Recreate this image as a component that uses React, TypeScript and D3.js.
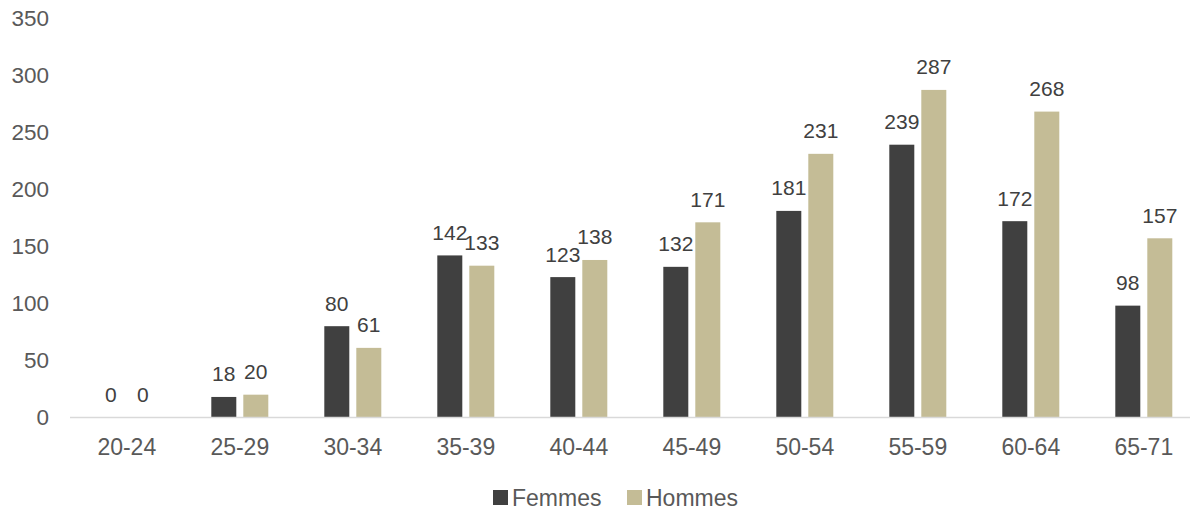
import React from "react";
import * as d3 from "d3";

const ageGroups = ["20-24", "25-29", "30-34", "35-39", "40-44", "45-49", "50-54", "55-59", "60-64", "65-71"];
const femmes = [0, 18, 80, 142, 123, 132, 181, 239, 172, 98];
const hommes = [0, 20, 61, 133, 138, 171, 231, 287, 268, 157];
const seriesNames = ["Femmes", "Hommes"];
const seriesColors = ["#404040", "#C4BC96"];
const yTicks = [0, 50, 100, 150, 200, 250, 300, 350];

const W = 1190;
const H = 510;
const FONT = "'Liberation Sans', Arial, Helvetica, sans-serif";

export default function App() {
  const x0 = d3.scaleBand<string>().domain(ageGroups).range([70.3, 1200.3]).padding(0);
  const groupW = 57;
  const x1 = d3
    .scaleBand<string>()
    .domain(seriesNames)
    .range([0, groupW])
    .paddingInner(7 / 32)
    .paddingOuter(0);
  const y = d3.scaleLinear().domain([0, 350]).range([417.5, 18]);

  const values = [femmes, hommes];
  const groupOffset = (x0.bandwidth() - groupW) / 2;

  const legendItems = [
    { name: seriesNames[0], color: seriesColors[0], x: 493 },
    { name: seriesNames[1], color: seriesColors[1], x: 627 },
  ];

  return (
    <svg
      width={W}
      height={H}
      style={{ position: "absolute", left: 0, top: 0, background: "#fff" }}
      fontFamily={FONT}
    >
      {/* y tick labels */}
      {yTicks.map((t) => (
        <text
          key={t}
          x={49}
          y={y(t)}
          dy="0.35em"
          textAnchor="end"
          fontSize={22.5}
          fill="#595959"
        >
          {t}
        </text>
      ))}

      {/* bars */}
      {ageGroups.map((g, i) => (
        <g key={g} transform={`translate(${x0(g)! + groupOffset},0)`}>
          {seriesNames.map((s, si) => {
            const v = values[si][i];
            const bx = x1(s)!;
            return (
              <g key={s}>
                <rect
                  x={bx}
                  y={y(v)}
                  width={x1.bandwidth()}
                  height={y(0) - y(v)}
                  fill={seriesColors[si]}
                />
                <text
                  x={bx + x1.bandwidth() / 2}
                  y={y(v) - 15.5}
                  textAnchor="middle"
                  fontSize={21}
                  fill="#404040"
                >
                  {v}
                </text>
              </g>
            );
          })}
        </g>
      ))}

      {/* category axis */}
      <line x1={70} x2={W} y1={y(0)} y2={y(0)} stroke="#D9D9D9" strokeWidth={1.5} />
      {ageGroups.map((g) => (
        <text
          key={g}
          x={x0(g)! + x0.bandwidth() / 2}
          y={455}
          textAnchor="middle"
          fontSize={23}
          fill="#595959"
        >
          {g}
        </text>
      ))}

      {/* legend */}
      {legendItems.map((it) => (
        <g key={it.name}>
          <rect x={it.x} y={490} width={15} height={15} fill={it.color} />
          <text x={it.x + 19} y={505.5} fontSize={23} fill="#595959">
            {it.name}
          </text>
        </g>
      ))}
    </svg>
  );
}
